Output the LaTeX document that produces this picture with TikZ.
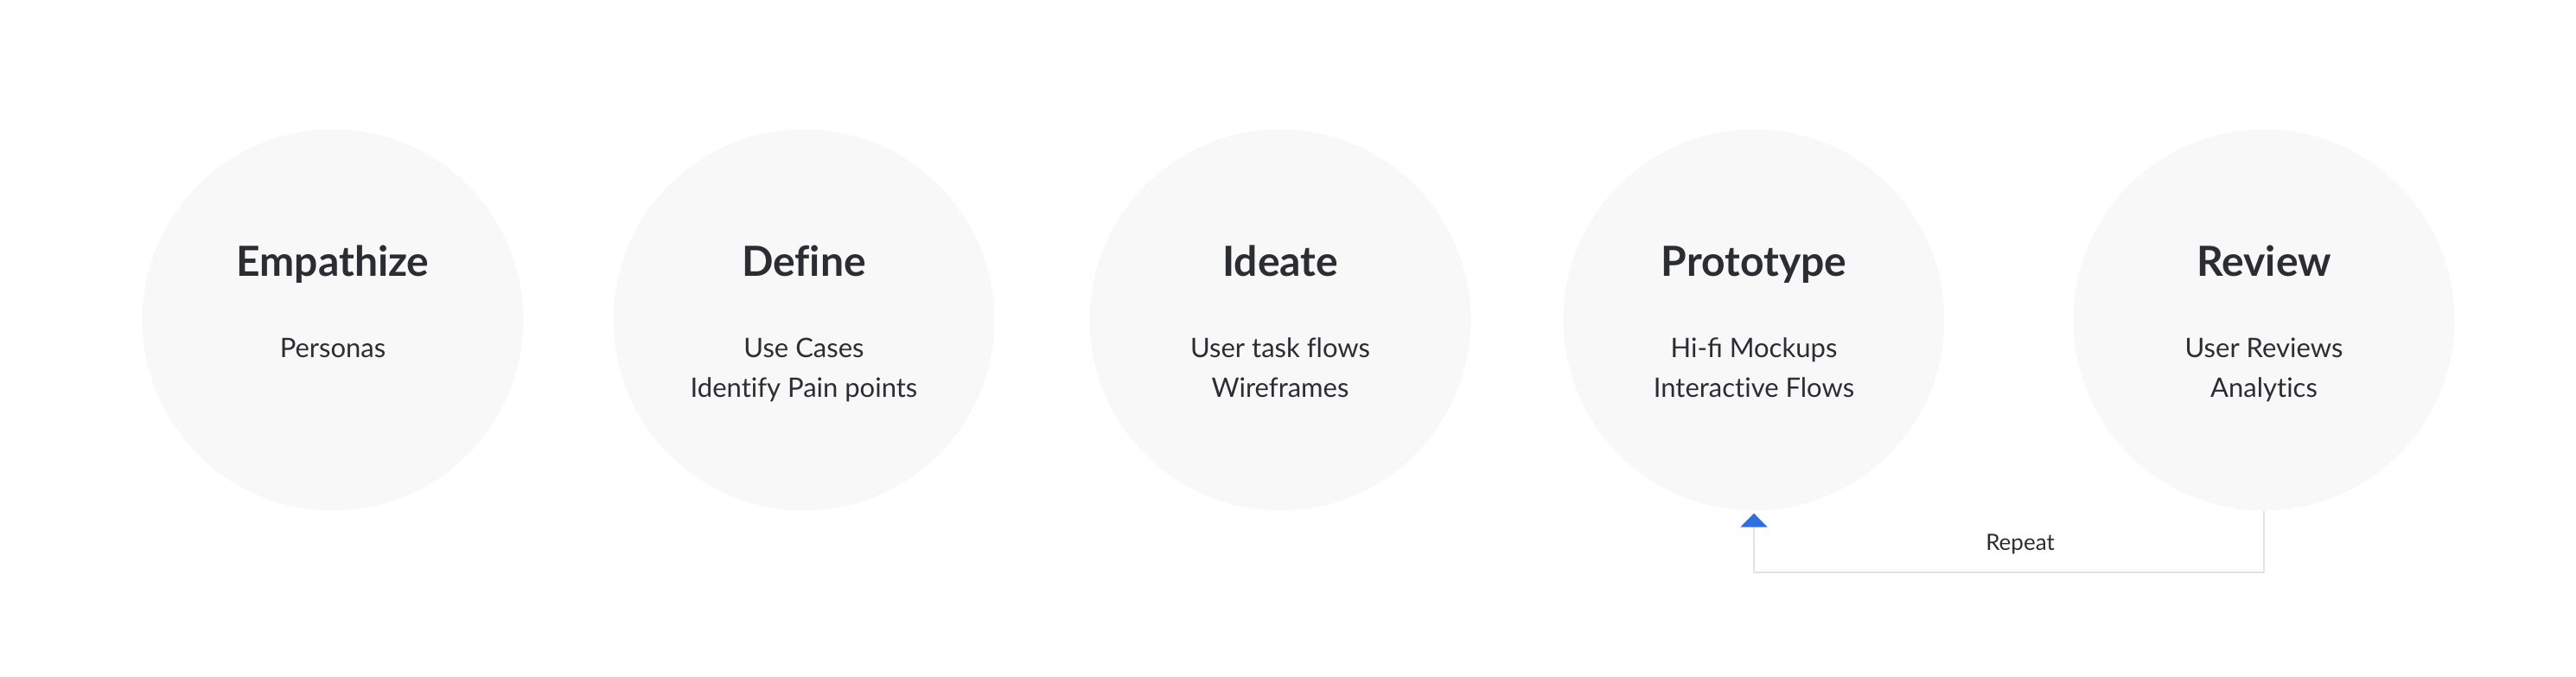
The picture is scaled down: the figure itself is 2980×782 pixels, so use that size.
\documentclass[tikz,border=0pt]{standalone}
\usepackage{fontspec}
\setmainfont{Lato}[Ligatures=NoCommon]
\usetikzlibrary{arrows.meta}
\definecolor{phasegray}{HTML}{F8F8F8}
\definecolor{inkgray}{HTML}{2B2D33}
\definecolor{linegray}{HTML}{E2E2E2}
\definecolor{tipblue}{HTML}{2F6FE0}
\begin{document}
\begin{tikzpicture}[x=1pt,y=-1pt,
        phasenode/.style={circle, fill=phasegray, minimum size=441pt, inner sep=0pt},
        headnode/.style={anchor=base, text=inkgray, font=\fontsize{48}{56}\selectfont\bfseries},
        itemnode/.style={anchor=base, text=inkgray, align=center, font=\fontsize{31}{46}\selectfont},
        repeatnode/.style={anchor=base, text=inkgray, font=\fontsize{26}{30}\selectfont},
        loopline/.style={draw=linegray, line width=2pt, shorten >=3pt, -{Triangle[width=31pt,length=16pt,color=tipblue]}},
        ]
        \useasboundingbox (0,0) rectangle (2980,782);

        % Circles
        \node[phasenode] (emp) at (385,370) {};
        \node[phasenode] (def) at (930,370) {};
        \node[phasenode] (ide) at (1481,370) {};
        \node[phasenode] (pro) at (2029,370) {};
        \node[phasenode] (rev) at (2619,370) {};

        % Titles
        \node[headnode] (emp-t) at (385,319) {Empathize};
        \node[headnode] (def-t) at (930,319) {Define};
        \node[headnode] (ide-t) at (1481,319) {Ideate};
        \node[headnode] (pro-t) at (2029,319) {Prototype};
        \node[headnode] (rev-t) at (2619,319) {Review};

        % Items (base is the last line)
        \node[itemnode] (emp-i) at (385,413) {Personas};
        \node[itemnode] (def-i) at (930,459) {Use Cases\\Identify Pain points};
        \node[itemnode] (ide-i) at (1481,459) {User task flows\\Wireframes};
        \node[itemnode] (pro-i) at (2029,459) {Hi-ﬁ Mockups\\Interactive Flows};
        \node[itemnode] (rev-i) at (2619,459) {User Reviews\\Analytics};

        % Review goes back to Prototype
        \draw[loopline] (rev.south) -- ++(0,71) -| (pro.south);
        \node[repeatnode] (rep) at (2337,636) {Repeat};

    \end{tikzpicture}
\end{document}
